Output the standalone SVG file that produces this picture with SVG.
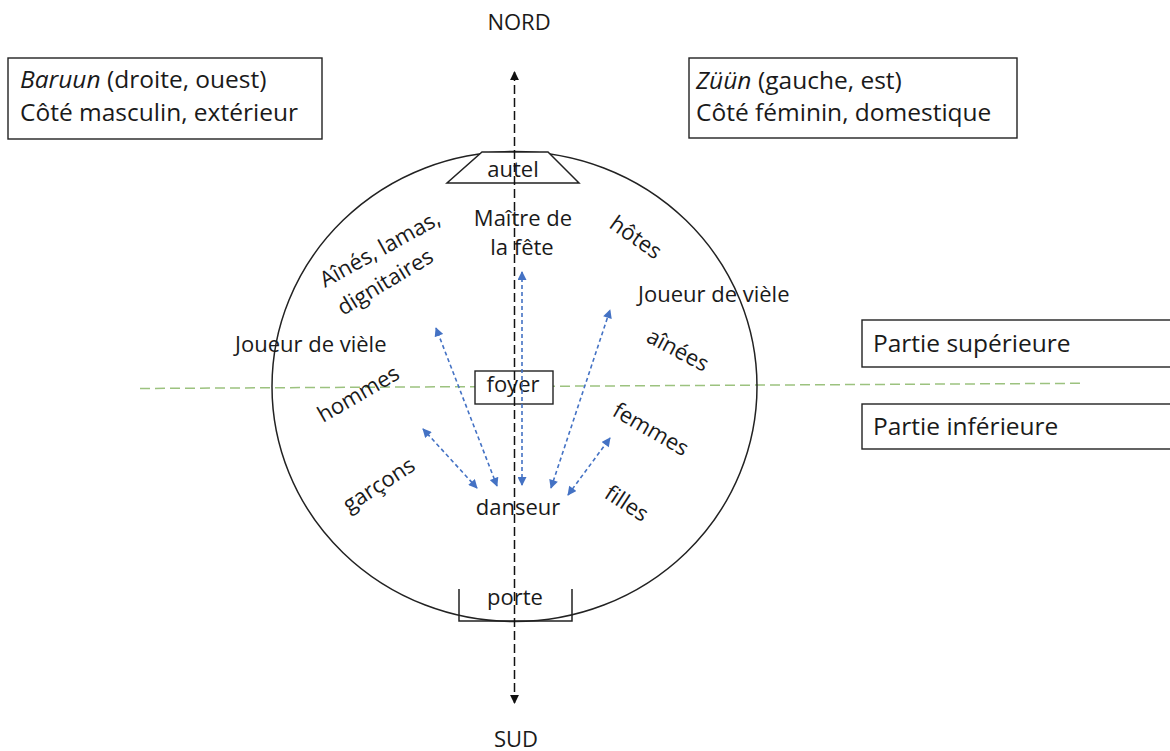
<svg xmlns="http://www.w3.org/2000/svg" width="1170" height="751" viewBox="0 0 1170 751">
<defs>
<style>
text{font-family:"Open Sans","Noto Sans","DejaVu Sans",sans-serif;fill:#1a1a1a;}
.lbl{font-size:22px;}
.box{font-size:24.5px;}
.it{font-style:italic;}
.rect{fill:#fff;stroke:#222;stroke-width:1.4;}
.blue{fill:none;stroke:#4472C4;stroke-width:1.6;stroke-dasharray:4 3;marker-start:url(#bh);marker-end:url(#bh);}
</style>
<marker id="bh" viewBox="0 0 10 10" refX="9" refY="5" markerWidth="10" markerHeight="9" markerUnits="userSpaceOnUse" orient="auto-start-reverse">
<path d="M0,0 L10,5 L0,10 z" fill="#4472C4"/>
</marker>
<marker id="kh" viewBox="0 0 10 10" refX="9" refY="5" markerWidth="9" markerHeight="9" markerUnits="userSpaceOnUse" orient="auto-start-reverse">
<path d="M0,0 L10,5 L0,10 z" fill="#111"/>
</marker>
</defs>
<rect width="1170" height="751" fill="#fff"/>

<g id="compass">
<text class="lbl" x="519" y="30" text-anchor="middle">NORD</text>
<text class="lbl" x="516" y="747" text-anchor="middle">SUD</text>
</g>

<g id="box-baruun">
<rect class="rect" x="8" y="58" width="314" height="81"/>
<text class="box it" x="20" y="88">Baruun</text>
<text class="box" x="107" y="88">(droite, ouest)</text>
<text class="box" x="20" y="121">Côté masculin, extérieur</text>
</g>
<g id="box-zuun">
<rect class="rect" x="689" y="58" width="328" height="80"/>
<text class="box it" x="696" y="89">Züün</text>
<text class="box" x="758" y="89">(gauche, est)</text>
<text class="box" x="696" y="121">Côté féminin, domestique</text>
</g>
<g id="box-superieure">
<rect class="rect" x="862" y="320" width="320" height="47"/>
<text class="box" x="873" y="352">Partie supérieure</text>
</g>
<g id="box-inferieure">
<rect class="rect" x="862" y="404" width="320" height="45"/>
<text class="box" x="873" y="435">Partie inférieure</text>
</g>

<g id="divider">
<line x1="140" y1="388.5" x2="1083" y2="383.3" stroke="#9CC27F" stroke-width="1.5" stroke-dasharray="10 5"/>
</g>

<g id="yourte">
<ellipse cx="514.5" cy="386.5" rx="242.5" ry="235" fill="none" stroke="#222" stroke-width="1.5"/>
</g>

<g id="autel">
<polygon points="482,152 548,152 579,183 447,183" fill="#fff" stroke="#222" stroke-width="1.5"/>
<text class="lbl" x="513" y="177" text-anchor="middle" font-size="23">autel</text>
</g>

<g id="porte">
<path d="M459,589 V621 H572 V589" fill="none" stroke="#222" stroke-width="1.5"/>
<text class="lbl" x="515" y="605" text-anchor="middle">porte</text>
</g>

<g id="foyer">
<rect class="rect" x="475" y="371" width="78" height="33"/>
<text class="lbl" x="513" y="392" text-anchor="middle">foyer</text>
</g>

<g id="connectors">
<line x1="514.5" y1="72" x2="514.5" y2="703" stroke="#111" stroke-width="1.5" stroke-dasharray="9 4" marker-start="url(#kh)" marker-end="url(#kh)"/>
<line class="blue" x1="522" y1="485" x2="522" y2="272"/>
<line class="blue" x1="497" y1="486" x2="436" y2="328"/>
<line class="blue" x1="551" y1="488" x2="610" y2="310"/>
<line class="blue" x1="477" y1="488" x2="423" y2="429"/>
<line class="blue" x1="568" y1="495" x2="610" y2="438"/>
</g>

<g id="danseur">
<text class="lbl" x="518" y="515" text-anchor="middle">danseur</text>
</g>
<g id="maitre">
<text class="lbl" x="523" y="226" text-anchor="middle">Maître de</text>
<text class="lbl" x="522" y="255" text-anchor="middle">la fête</text>
</g>
<g id="aines">
<text class="lbl" transform="translate(325,288) rotate(-29)">Aînés, lamas,</text>
<text class="lbl" transform="translate(343,316) rotate(-31)">dignitaires</text>
</g>
<g id="joueur-gauche">
<text class="lbl" x="235" y="352">Joueur de vièle</text>
</g>
<g id="hommes">
<text class="lbl" transform="translate(323,423) rotate(-30)">hommes</text>
</g>
<g id="garcons">
<text class="lbl" transform="translate(349,513) rotate(-33)">garçons</text>
</g>
<g id="hotes">
<text class="lbl" transform="translate(608,227) rotate(35)">hôtes</text>
</g>
<g id="joueur-droite">
<text class="lbl" x="638" y="302">Joueur de vièle</text>
</g>
<g id="ainees">
<text class="lbl" transform="translate(645,341) rotate(28)">aînées</text>
</g>
<g id="femmes">
<text class="lbl" transform="translate(611,415) rotate(30)">femmes</text>
</g>
<g id="filles">
<text class="lbl" transform="translate(603,497) rotate(33)">filles</text>
</g>
</svg>
